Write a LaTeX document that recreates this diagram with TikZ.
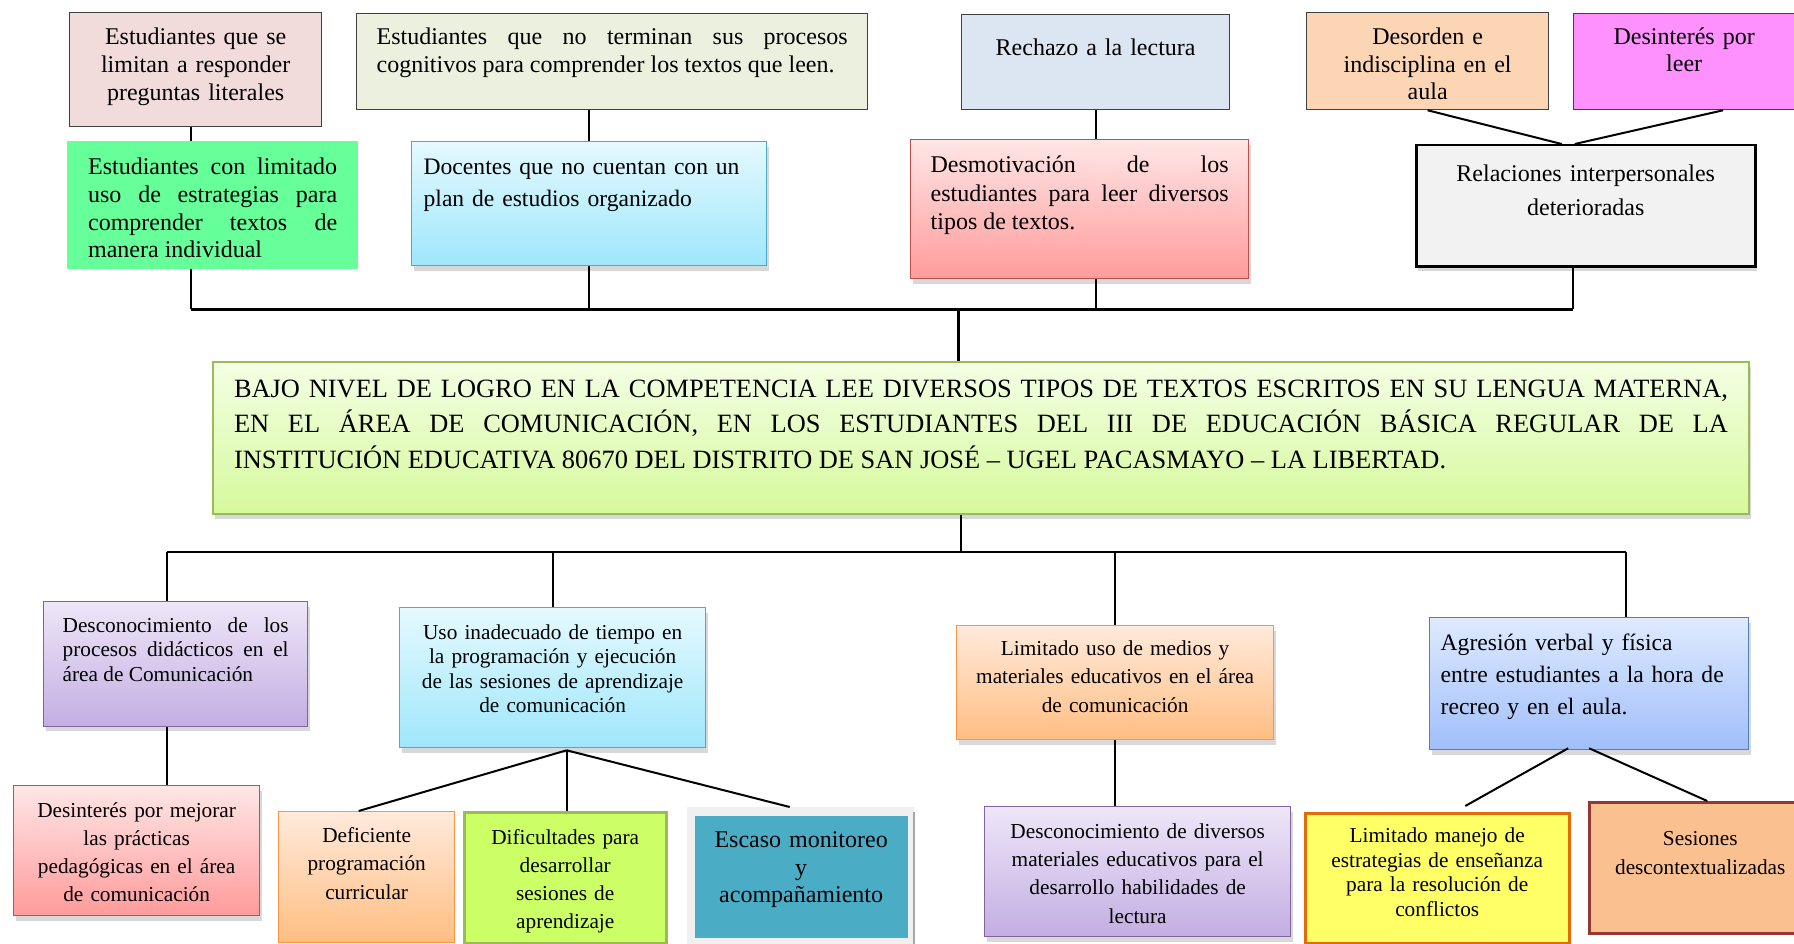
\documentclass[tikz,border=0pt]{standalone}
\usepackage{fontspec}
\setmainfont{Liberation Serif}
\usetikzlibrary{calc,shadows}

\definecolor{rosa}{HTML}{F2DCDB}
\definecolor{olivo}{HTML}{EBF1DE}
\definecolor{verdef}{HTML}{66FF99}
\definecolor{celeste}{HTML}{DCE6F2}
\definecolor{durazno}{HTML}{FCD5B5}
\definecolor{fucsia}{HTML}{FF91FF}
\definecolor{grisc}{HTML}{F2F2F2}
\definecolor{aguaB}{HTML}{4BACC6}
\definecolor{cianA}{HTML}{E5F9FF}
\definecolor{cianB}{HTML}{9EE7FB}
\definecolor{rojA}{HTML}{FFE6E6}
\definecolor{rojB}{HTML}{FF9B9B}
\definecolor{rojoB}{HTML}{C0504D}
\definecolor{lilaA}{HTML}{EEE6F8}
\definecolor{lilaB}{HTML}{C3AEE2}
\definecolor{moradoB}{HTML}{8064A2}
\definecolor{melA}{HTML}{FFEADB}
\definecolor{melB}{HTML}{FFBE82}
\definecolor{naranjaB}{HTML}{F79646}
\definecolor{azulA}{HTML}{DFEAFE}
\definecolor{azulB}{HTML}{A0BFFA}
\definecolor{azulBorde}{HTML}{4F81BD}
\definecolor{limaA}{HTML}{F3FFE4}
\definecolor{limaB}{HTML}{D6F99C}
\definecolor{verdeB}{HTML}{9BBB59}
\definecolor{lima}{HTML}{CCFF66}
\definecolor{amarillo}{HTML}{FFFF66}
\definecolor{naranjaO}{HTML}{E36C09}
\definecolor{salmon}{HTML}{FAC090}
\definecolor{vino}{HTML}{953735}

\begin{document}
\begin{tikzpicture}[x=1pt,y=-1pt,
  caja/.style={anchor=north west, inner ysep=0pt, draw=black!75, line width=1.3pt},
  sombra/.style={drop shadow={shadow xshift=2pt, shadow yshift=-5pt, opacity=.3}},
  fs/.style 2 args={font=\fontsize{#1}{#2}\selectfont},
  linea/.style={line width=2pt}]
\clip (0,0) rectangle (1794,944);
\fill[white] (0,0) rectangle (1794,944);

% causas de arriba
\node[caja, fill=rosa, fs={24}{27.7}, align=center, text width=232pt, inner xsep=10pt,
  text height=32pt, text depth=82pt] (lit) at (69,12)
  {Estudiantes que se\\limitan a responder\\preguntas literales};
\node[caja, fill=olivo, fs={24}{28}, align=justify, text width=471pt, inner xsep=20pt,
  text height=31pt, text depth=65pt] (cogn) at (356,13)
  {Estudiantes que no terminan sus procesos\linebreak cognitivos para comprender los textos que leen.};
\node[caja, draw=verdef, fill=verdef, fs={24}{27.7}, align=justify, text width=249pt, inner xsep=20.5pt,
  text height=33pt, text depth=94pt] (estr) at (67,141)
  {Estudiantes con limitado\linebreak uso de estrategias para\linebreak comprender textos de\linebreak manera individual};
\node[caja, sombra, draw=aguaB, top color=cianA, bottom color=cianB, fs={23.6}{32}, align=left,
  text width=331pt, inner xsep=12pt, text height=33pt, text depth=91pt] (plan) at (411,141)
  {\mbox{Docentes que no cuentan con un}\\plan de estudios organizado};
\node[caja, fill=celeste, fs={24}{28}, align=center, text width=248pt, inner xsep=10pt,
  text height=41pt, text depth=54pt] (rech) at (961,14) {Rechazo a la lectura};
\node[caja, sombra, draw=rojoB, top color=rojA, bottom color=rojB, fs={24}{28.5}, align=justify,
  text width=298pt, inner xsep=20pt, text height=33pt, text depth=106pt] (desm) at (910,139)
  {Desmotivación de los\linebreak estudiantes para leer diversos\linebreak tipos de textos.};
\node[caja, fill=durazno, fs={24}{27.5}, align=center, text width=222pt, inner xsep=10pt,
  text height=32pt, text depth=65pt] (indis) at (1306,12) {Desorden e\\indisciplina en el\\aula};
\node[caja, fill=fucsia, fs={24}{27}, align=center, text width=201pt, inner xsep=10pt,
  text height=31pt, text depth=65pt] (leer) at (1573,13) {Desinterés por\\leer};
\node[caja, sombra, draw=black, line width=2.5pt, fill=grisc, fs={24}{34}, align=center,
  text width=319pt, inner xsep=10pt, text height=36pt, text depth=85pt] (relac) at (1415,144)
  {Relaciones interpersonales\\deterioradas};

% problema central
\node[caja, sombra, draw=verdeB, line width=2pt, top color=limaA, bottom color=limaB, fs={26.4}{35.5},
  align=justify, text width=1494pt, inner xsep=21pt, text height=35pt, text depth=117pt] (prob) at (212,361)
  {BAJO NIVEL DE LOGRO EN LA COMPETENCIA LEE DIVERSOS TIPOS DE TEXTOS ESCRITOS EN SU LENGUA MATERNA,\linebreak
   EN EL ÁREA DE COMUNICACIÓN, EN LOS ESTUDIANTES DEL III DE EDUCACIÓN BÁSICA REGULAR DE LA\linebreak
   INSTITUCIÓN EDUCATIVA 80670 DEL DISTRITO DE SAN JOSÉ – UGEL PACASMAYO – LA LIBERTAD.};

% efectos de abajo
\node[caja, sombra, draw=moradoB, top color=lilaA, bottom color=lilaB, fs={21.3}{24.5}, align=justify,
  text width=226pt, inner xsep=19pt, text height=30.5pt, text depth=94pt] (desproc) at (43,601)
  {Desconocimiento de los\linebreak procesos didácticos en el\linebreak área de Comunicación};
\node[caja, sombra, draw=rojoB, top color=rojA, bottom color=rojB, fs={21.3}{28}, align=center,
  text width=226pt, inner xsep=10pt, text height=31.5pt, text depth=98.5pt] (desmej) at (13,785)
  {Desinterés por mejorar\\las prácticas\\pedagógicas en el área\\de comunicación};
\node[caja, sombra, draw=aguaB, top color=cianA, bottom color=cianB, fs={21.3}{24.5}, align=center,
  text width=290pt, inner xsep=8pt, text height=31.5pt, text depth=108.5pt] (uso) at (399,607)
  {Uso inadecuado de tiempo en\\la programación y ejecución\\de las sesiones de aprendizaje\\de comunicación};
\node[caja, draw=naranjaB, top color=melA, bottom color=melB, fs={21.3}{28.5}, align=center,
  text width=160pt, inner xsep=8pt, text height=30.5pt, text depth=100.5pt] (defic) at (278,811)
  {Deficiente\\programación\\curricular};
\node[caja, draw=verdeB, line width=2.5pt, fill=lima, fs={21.3}{28}, align=center,
  text width=186pt, inner xsep=8pt, text height=32.5pt, text depth=98.5pt] (dific) at (463,811)
  {Dificultades para\\desarrollar\\sesiones de\\aprendizaje};
\node[anchor=north west, inner sep=0pt, fill=black!6, minimum width=227pt, minimum height=150pt] (escfr) at (687,807) {};
\draw[black!35, line width=2pt] ($(escfr.north east)+(0,5)$) -- (escfr.south east);
\node[caja, draw=none, fill=aguaB, fs={24}{27.5}, align=center,
  text width=193pt, inner xsep=10pt, text height=32pt, text depth=90pt] (escaso) at (694,815)
  {Escaso monitoreo\\y\\acompañamiento};
\node[caja, sombra, draw=naranjaB, top color=melA, bottom color=melB, fs={21.3}{28.5}, align=center,
  text width=301pt, inner xsep=8pt, text height=29.5pt, text depth=84.5pt] (limuso) at (956,625)
  {Limitado uso de medios y\\materiales educativos en el área\\de comunicación};
\node[caja, sombra, draw=moradoB, top color=lilaA, bottom color=lilaB, fs={21.3}{28.3}, align=center,
  text width=290pt, inner xsep=8pt, text height=31.5pt, text depth=98.5pt] (descdiv) at (984,806)
  {Desconocimiento de diversos\\materiales educativos para el\\desarrollo habilidades de\\lectura};
\node[caja, sombra, draw=azulBorde, top color=azulA, bottom color=azulB, fs={23.6}{32}, align=left,
  text width=297pt, inner xsep=11pt, text height=33pt, text depth=99pt] (agres) at (1429,617)
  {\mbox{Agresión verbal y física}\\\mbox{entre estudiantes a la hora de}\\recreo y en el aula.};
\node[caja, draw=naranjaO, line width=2.5pt, fill=amarillo, fs={21.3}{24.5}, align=center,
  text width=248pt, inner xsep=8pt, text height=29.5pt, text depth=100.5pt] (manejo) at (1304,812)
  {Limitado manejo de\\estrategias de enseñanza\\para la resolución de\\conflictos};
\node[caja, draw=vino, line width=2.5pt, fill=salmon, fs={21.3}{28.5}, align=center,
  text width=206pt, inner xsep=8pt, text height=43.5pt, text depth=87.5pt] (sesion) at (1588,801)
  {Sesiones\\descontextualizadas};

% conectores
\coordinate (bus1) at (0,309);
\coordinate (bus2) at (0,552);
\coordinate (c1) at ($(lit.south)+(-5,0)$);
\coordinate (c2) at ($(relac.south)+(-13,0)$);
\coordinate (c3) at ($(desproc.north)+(-9,0)$);
\draw[linea] (c1) -- (c1 |- estr.north);
\draw[linea] (estr.south -| c1) -- (bus1 -| c1);
\draw[linea] (cogn.south -| plan.north) -- (plan.north);
\draw[linea] (plan.south) -- (bus1 -| plan.south);
\draw[linea] (rech.south) -- (rech.south |- desm.north);
\draw[linea] (desm.south -| rech.south) -- (bus1 -| rech.south);
\draw[linea] (indis.south) -- ($(relac.north)+(-24,0)$);
\draw[linea] ($(leer.south)!0.35!(leer.south east)$) -- ($(relac.north)+(-11,0)$);
\draw[linea] (c2) -- (bus1 -| c2);
\draw[line width=3pt] (bus1 -| c1) -- (bus1 -| c2);
\coordinate (jun1) at ($(bus1 -| prob.north)+(-23,0)$);
\draw[line width=3pt] (jun1) -- (jun1 |- prob.north);

\coordinate (jun2) at ($(prob.south)+(-20,0)$);
\coordinate (agr) at ($(agres.north)!0.23!(agres.north east)$);
\draw[linea] (jun2) -- (jun2 |- bus2);
\draw[line width=2.5pt] (bus2 -| c3) -- (bus2 -| agr);
\draw[linea] (bus2 -| c3) -- (c3);
\draw[linea] (desproc.south -| c3) -- (c3 |- desmej.north);
\draw[linea] (bus2 -| uso.north) -- (uso.north);
\draw[linea] (bus2 -| limuso.north) -- (limuso.north);
\draw[linea] (bus2 -| agr) -- (agr);
\draw[linea] (limuso.south) -- (limuso.south |- descdiv.north);
\coordinate (fan) at ($(uso.south)+(14,2)$);
\draw[linea] (fan) -- ($(defic.north)+(-8,0)$);
\draw[linea] (fan) -- (fan |- dific.north);
\draw[linea] (fan) -- ($(escfr.north)+(-11,0)$);
\draw[linea] ($(agres.south)+(-21,-2)$) -- ($(manejo.north)+(28,-6)$);
\draw[linea] ($(agres.south)+(0,-2)$) -- ($(sesion.north)+(7,0)$);
\end{tikzpicture}
\end{document}
